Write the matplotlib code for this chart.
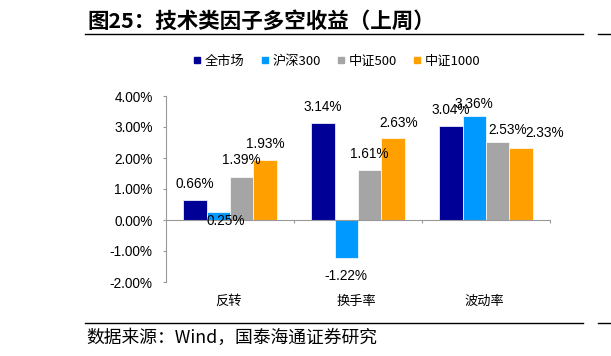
import numpy as np
import matplotlib
matplotlib.use('Agg')
import matplotlib.pyplot as plt
from matplotlib.lines import Line2D

plt.rcParams['font.family'] = ['Liberation Sans', 'Noto Sans CJK SC', 'DejaVu Sans']
CJK = ['Noto Sans CJK SC', 'DejaVu Sans']

categories = ['反转', '换手率', '波动率']
series_names = ['全市场', '沪深300', '中证500', '中证1000']
values = [
    [0.66, 3.14, 3.04],   # 全市场
    [0.25, -1.22, 3.36],  # 沪深300
    [1.39, 1.61, 2.53],   # 中证500
    [1.93, 2.63, 2.33],   # 中证1000
]
colors = ['#000096', '#0099FF', '#A5A5A5', '#FFA000']
yticks = [-2, -1, 0, 1, 2, 3, 4]

# label offsets in pixels (dx, dy) from bar end
label_offsets = [
    [(0, 16), (0, 16), (0, 15.5)],
    [(7, -8.5), (0, -18.5), (0, 12)],
    [(0, 16.5), (0, 16), (10, 12)],
    [(0, 16.5), (6, 15), (24, 15)],
]

fig = plt.figure(figsize=(6.11, 3.56), dpi=100)
ax = fig.add_axes([166 / 611, 1 - 282 / 356, (550 - 166) / 611, (282 - 96) / 356])

x = np.arange(len(categories))
w = 0.182
for i, (name, vals) in enumerate(zip(series_names, values)):
    pos = x + (i - 1.5) * w
    ax.bar(pos, vals, w, color=colors[i], edgecolor='white', linewidth=0.5, label=name, zorder=2)
    for j, v in enumerate(vals):
        dx, dy = label_offsets[i][j]
        ax.annotate('%.2f%%' % v, (pos[j], v), xytext=(dx, dy), textcoords='offset pixels',
                    ha='center', va='center', fontsize=9.8, zorder=3)

ax.set_xlim(-0.5, 2.5)
ax.set_ylim(-2, 4)
ax.set_yticks(yticks)
ax.set_yticklabels(['%.2f%%' % t for t in yticks], fontsize=9.8)
ax.set_xticks([0.5, 1.5, 2.5])
ax.set_xticklabels([])
ax.spines['top'].set_visible(False)
ax.spines['right'].set_visible(False)
ax.spines['bottom'].set_position(('data', 0))
for s in ['left', 'bottom']:
    ax.spines[s].set_color('#999999')
    ax.spines[s].set_linewidth(0.8)
ax.tick_params(axis='both', direction='out', length=2.5, color='#999999', width=0.8)
ax.tick_params(axis='y', pad=7)

for j, c in enumerate(categories):
    ax.annotate(c, (x[j], 0), xycoords=('data', 'axes fraction'), xytext=(-2, -19),
                textcoords='offset pixels', ha='center', va='center', fontsize=9.5, family=CJK)

handles = [Line2D([], [], marker='s', linestyle='none', color=c, markersize=4.5) for c in colors]
fig.legend(handles, series_names, loc='center', bbox_to_anchor=(336 / 611, 1 - 61 / 356),
           ncol=4, frameon=False, prop={'family': CJK, 'size': 9.5},
           handletextpad=0.2, columnspacing=1.1, handlelength=0.8)

fig.text(87 / 611, 1 - 21 / 356, '图25：技术类因子多空收益（上周）', fontsize=15.5, fontweight='bold',
         family=CJK, ha='left', va='center')
fig.add_artist(Line2D([85 / 611, 583 / 611], [1 - 34 / 356] * 2, color='black', linewidth=1))
fig.add_artist(Line2D([85 / 611, 583 / 611], [1 - 323 / 356] * 2, color='black', linewidth=1))
fig.add_artist(Line2D([598 / 611, 1.0], [1 - 34 / 356] * 2, color='black', linewidth=1))
fig.add_artist(Line2D([598 / 611, 1.0], [1 - 323 / 356] * 2, color='black', linewidth=1))
fig.text(86 / 611, 1 - 338 / 356, '数据来源：Wind，国泰海通证券研究', fontsize=12.8,
         family=CJK, ha='left', va='center')

fig.savefig('out.png', dpi=100)
